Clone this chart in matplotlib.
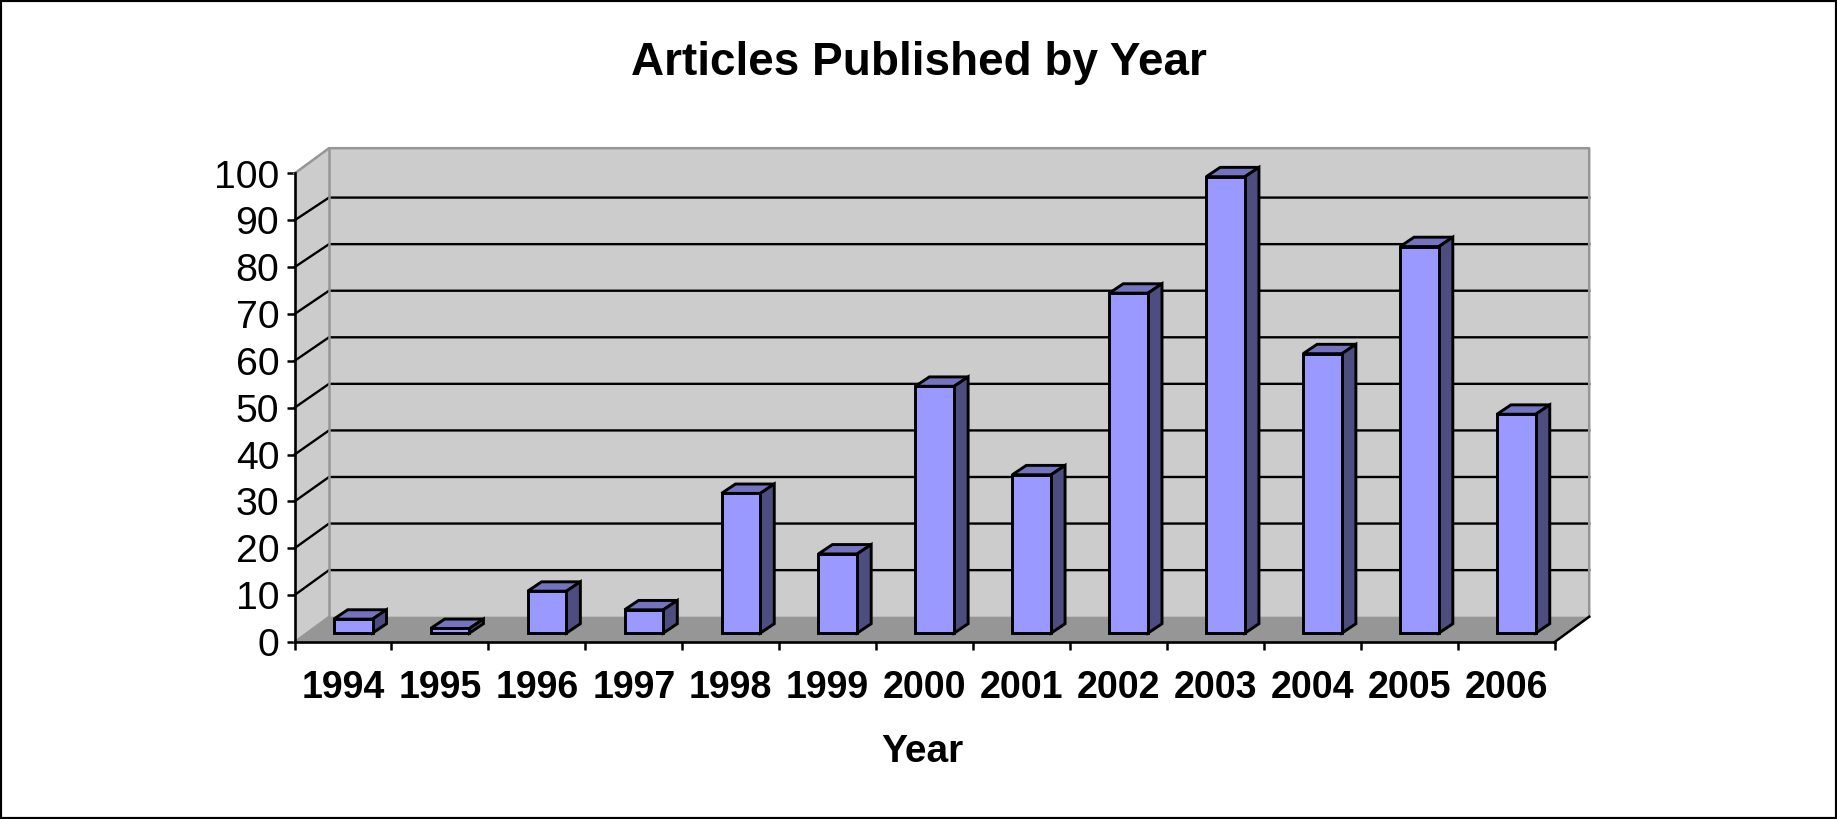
import matplotlib
matplotlib.use("Agg")
import matplotlib.pyplot as plt
from matplotlib.patches import Polygon, Rectangle

years = ["1994", "1995", "1996", "1997", "1998", "1999", "2000",
         "2001", "2002", "2003", "2004", "2005", "2006"]
articles = [3, 1, 9, 5, 30, 17, 53, 34, 73, 98, 60, 83, 47]
y_ticks = [0, 10, 20, 30, 40, 50, 60, 70, 80, 90, 100]

W, H = 1837, 819
plt.rcParams["font.family"] = ["Liberation Sans", "DejaVu Sans"]

fig = plt.figure(figsize=(W / 100, H / 100), dpi=100, facecolor="white")
# front plane of the fake 3d box, in pixels of the reference
left, right, bottom, top = 294.5, 1554.7, 642.0, 173.5
ax = fig.add_axes([left / W, 1 - bottom / H, (right - left) / W, (bottom - top) / H])
ax.set_xlim(0, len(years))
ax.set_ylim(0, 100)
ax.patch.set_visible(False)

# depth of the walls and of the bars, in data units
wall_dx, wall_dy = 0.356, 5.4
bar_dx, bar_dy = 0.144, 2.0
bar_off_x, bar_off_y = 0.105, 1.9
bar_w = 0.40
# things further back in the box come out a little shorter than the front scale
depth_scale = 0.994

WALL = "#cccccc"
FLOOR = "#969696"
EDGE = "#969696"
FRONT = "#9999ff"
TOP = "#7373bf"
SIDE = "#4d4d80"
n = len(years)


def poly(points, face, edge="none", lw=0.0, z=1):
    ax.add_patch(Polygon(points, closed=True, facecolor=face, edgecolor=edge,
                         linewidth=lw, clip_on=False, zorder=z, joinstyle="miter"))


# walls and floor
poly([(0, 0), (wall_dx, wall_dy), (wall_dx, 100 + wall_dy), (0, 100)], WALL)
poly([(wall_dx, wall_dy), (n + wall_dx, wall_dy), (n + wall_dx, 100 + wall_dy),
      (wall_dx, 100 + wall_dy)], WALL)
poly([(0, 0), (n, 0), (n + wall_dx, wall_dy), (wall_dx, wall_dy)], FLOOR)

# gridlines run along the back wall and down the side wall
for v in y_ticks[1:-1]:
    back = wall_dy + v * depth_scale
    ax.plot([0, wall_dx, n + wall_dx], [v, back, back],
            color="black", lw=1.7, clip_on=False, zorder=2, solid_joinstyle="miter")

# grey outline of the box
ax.plot([0, wall_dx, n + wall_dx, n + wall_dx],
        [100, 100 + wall_dy, 100 + wall_dy, wall_dy],
        color=EDGE, lw=1.8, clip_on=False, zorder=2)
ax.plot([wall_dx, wall_dx], [wall_dy, 100 + wall_dy], color=EDGE, lw=1.8,
        clip_on=False, zorder=2)
ax.plot([0, wall_dx], [0, wall_dy], color=EDGE, lw=1.5, clip_on=False, zorder=2)
ax.plot([n, n + wall_dx], [0, wall_dy], color="black", lw=1.8, clip_on=False, zorder=3)

# bars
for i, val in enumerate(articles):
    x0 = i + 0.5 - bar_w / 2 + bar_off_x
    x1 = x0 + bar_w
    y0 = bar_off_y
    h = val * depth_scale
    y1 = y0 + h
    poly([(x0, y1), (x1, y1), (x1 + bar_dx, y1 + bar_dy), (x0 + bar_dx, y1 + bar_dy)],
         TOP, "black", 2.1, 4)
    poly([(x1, y0), (x1 + bar_dx, y0 + bar_dy), (x1 + bar_dx, y1 + bar_dy), (x1, y1)],
         SIDE, "black", 2.1, 4)
    ax.bar(x0, h, width=bar_w, bottom=y0, align="edge", color=FRONT,
           edgecolor="black", linewidth=2.1, zorder=5, clip_on=False)

# axes
for name in ["top", "right"]:
    ax.spines[name].set_visible(False)
for name in ["left", "bottom"]:
    ax.spines[name].set_linewidth(1.9)
    ax.spines[name].set_zorder(6)

ax.set_yticks(y_ticks)
ax.tick_params(axis="y", which="major", length=5.5, width=1.8, labelsize=28.3, pad=5.5)
ax.set_xticks(range(n + 1))
ax.set_xticklabels([])
ax.tick_params(axis="x", which="major", length=6, width=1.8)
ax.set_xticks([i + 0.5 for i in range(n)], minor=True)
ax.set_xticklabels(years, minor=True, fontsize=27.1, fontweight="bold")
ax.tick_params(axis="x", which="minor", length=0, pad=20.5)

fig.text(918.5 / W, 1 - 63 / H, "Articles Published by Year", fontsize=33,
         fontweight="bold", ha="center", va="center")
fig.text(922 / W, 1 - 752.5 / H, "Year", fontsize=28, fontweight="bold",
         ha="center", va="center")

# black frame round the whole picture
fig.add_artist(Rectangle((0, 0), 1, 1, transform=fig.transFigure, fill=False,
                         edgecolor="black", linewidth=3.0))

fig.savefig("out.png", dpi=100)
